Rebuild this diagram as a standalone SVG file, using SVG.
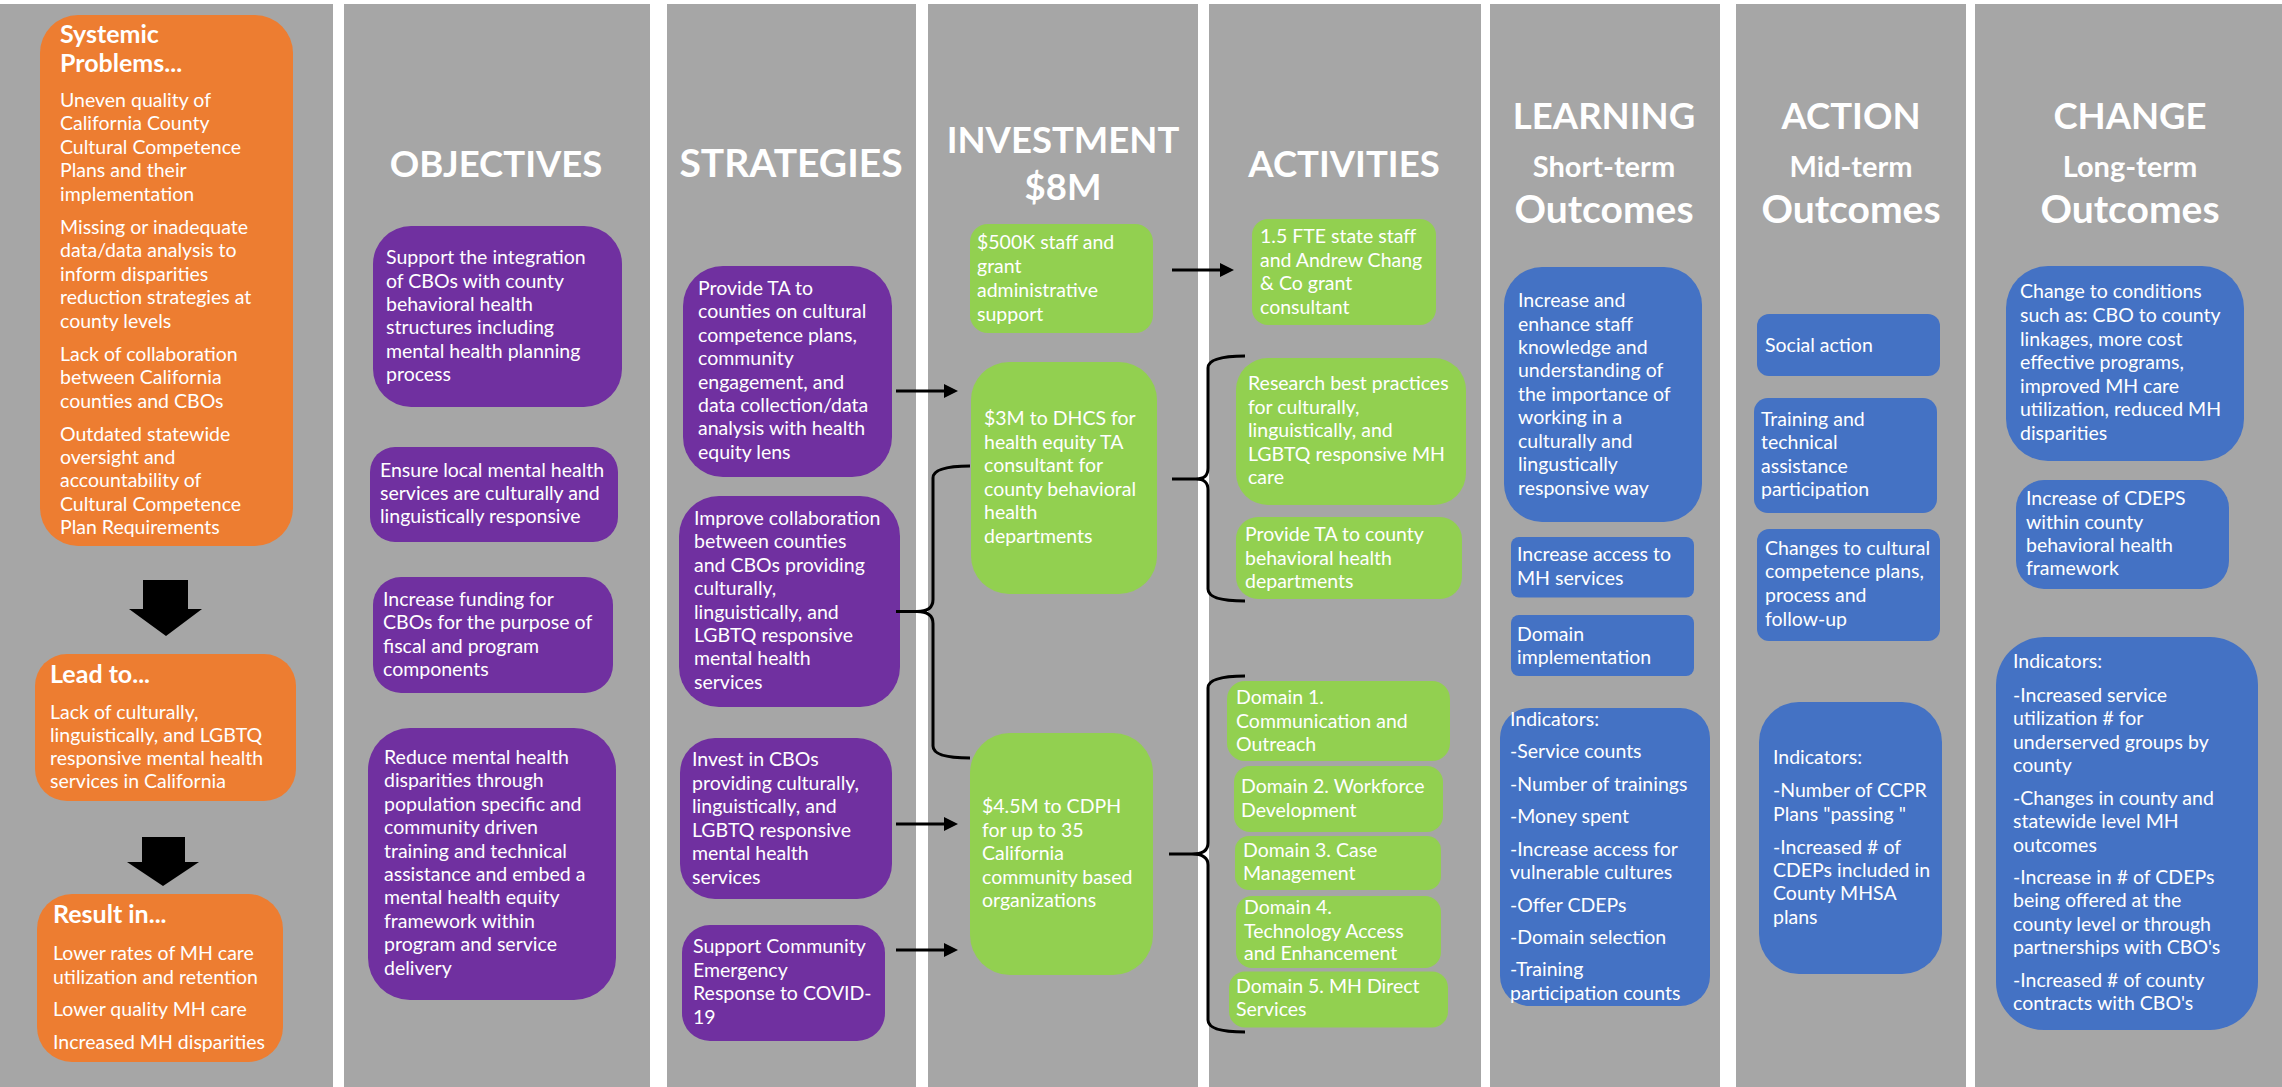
<svg xmlns="http://www.w3.org/2000/svg" width="2282" height="1087" viewBox="0 0 2282 1087">
<style>
.col{fill:#A6A6A6}
.org{fill:#ED7D31}
.pur{fill:#7030A0}
.grn{fill:#92D050}
.blu{fill:#4472C4}
text{font-family:Lato,'Open Sans',sans-serif;fill:#fff}
.t{font-size:19.5px}
.b{font-size:25px;font-weight:bold}
.h{font-size:36.5px;font-weight:bold;text-anchor:middle}
.hw{font-size:39px;font-weight:bold;text-anchor:middle}
.h2{font-size:29px;font-weight:bold;text-anchor:middle}
.ln{stroke:#000;stroke-width:3;fill:none}
</style>
<defs>
<marker id="ah" viewBox="0 0 10 10" refX="0" refY="5" markerWidth="17" markerHeight="14" markerUnits="userSpaceOnUse" orient="auto"><path d="M0 0L10 5L0 10z" fill="#000"/></marker>
</defs>
<rect width="2282" height="1087" fill="#fff"/>
<g id="columns">
<rect class="col" x="0" y="4" width="333" height="1083"/>
<rect class="col" x="344" y="4" width="306" height="1083"/>
<rect class="col" x="667" y="4" width="249" height="1083"/>
<rect class="col" x="928" y="4" width="270" height="1083"/>
<rect class="col" x="1209" y="4" width="272" height="1083"/>
<rect class="col" x="1490" y="4" width="230" height="1083"/>
<rect class="col" x="1736" y="4" width="230" height="1083"/>
<rect class="col" x="1975" y="4" width="307" height="1083"/>
</g>
<g id="headings">
<text class="h" x="496" y="177">OBJECTIVES</text>
<text class="hw" x="791" y="177">STRATEGIES</text>
<text class="h" x="1063" y="153">INVESTMENT</text>
<text class="h" x="1063" y="200">$8M</text>
<text class="h" x="1344" y="177">ACTIVITIES</text>
<text class="h" x="1604" y="129">LEARNING</text>
<text class="h2" x="1604" y="177">Short-term</text>
<text class="hw" x="1604" y="223">Outcomes</text>
<text class="h" x="1851" y="129">ACTION</text>
<text class="h2" x="1851" y="177">Mid-term</text>
<text class="hw" x="1851" y="223">Outcomes</text>
<text class="h" x="2130" y="129">CHANGE</text>
<text class="h2" x="2130" y="177">Long-term</text>
<text class="hw" x="2130" y="223">Outcomes</text>
</g>
<g id="problems">
<rect class="org" x="40" y="15" width="253" height="531" rx="38"/>
<text class="b" x="60" y="43">Systemic</text>
<text class="b" x="60" y="72">Problems...</text>
<text class="t" x="60" y="107">Uneven quality of</text>
<text class="t" x="60" y="130.4">California County</text>
<text class="t" x="60" y="153.8">Cultural Competence</text>
<text class="t" x="60" y="177.2">Plans and their</text>
<text class="t" x="60" y="200.6">implementation</text>
<text class="t" x="60" y="234">Missing or inadequate</text>
<text class="t" x="60" y="257.4">data/data analysis to</text>
<text class="t" x="60" y="280.8">inform disparities</text>
<text class="t" x="60" y="304.2">reduction strategies at</text>
<text class="t" x="60" y="327.6">county levels</text>
<text class="t" x="60" y="361">Lack of collaboration</text>
<text class="t" x="60" y="384.4">between California</text>
<text class="t" x="60" y="407.8">counties and CBOs</text>
<text class="t" x="60" y="440.5">Outdated statewide</text>
<text class="t" x="60" y="463.9">oversight and</text>
<text class="t" x="60" y="487.3">accountability of</text>
<text class="t" x="60" y="510.7">Cultural Competence</text>
<text class="t" x="60" y="534.1">Plan Requirements</text>
</g>
<g id="arrow-down-1"><polygon points="143,580 188,580 188,609 202,609 166,636 129,609 143,609" fill="#000"/></g>
<g id="lead-to">
<rect class="org" x="35" y="654" width="261" height="147" rx="32"/>
<text class="b" x="50" y="683">Lead to...</text>
<text class="t" x="50" y="719">Lack of culturally,</text>
<text class="t" x="50" y="742">linguistically, and LGBTQ</text>
<text class="t" x="50" y="765">responsive mental health</text>
<text class="t" x="50" y="788">services in California</text>
</g>
<g id="arrow-down-2"><polygon points="142,837 185,837 185,862 199,862 163,886 127,862 142,862" fill="#000"/></g>
<g id="result-in">
<rect class="org" x="37" y="894" width="246" height="168" rx="35"/>
<text class="b" x="53" y="923">Result in...</text>
<text class="t" x="53" y="960">Lower rates of MH care</text>
<text class="t" x="53" y="983.5">utilization and retention</text>
<text class="t" x="53" y="1016">Lower quality MH care</text>
<text class="t" x="53" y="1049">Increased MH disparities</text>
</g>
<g id="obj-1">
<rect class="pur" x="373" y="226" width="249" height="181" rx="38"/>
<text class="t" x="386" y="264">Support the integration</text>
<text class="t" x="386" y="287.5">of CBOs with county</text>
<text class="t" x="386" y="311">behavioral health</text>
<text class="t" x="386" y="334">structures including</text>
<text class="t" x="386" y="357.5">mental health planning</text>
<text class="t" x="386" y="381">process</text>
</g>
<g id="obj-2">
<rect class="pur" x="370" y="447" width="248" height="95" rx="25"/>
<text class="t" x="380" y="477">Ensure local mental health</text>
<text class="t" x="380" y="500">services are culturally and</text>
<text class="t" x="380" y="523">linguistically responsive</text>
</g>
<g id="obj-3">
<rect class="pur" x="373" y="577" width="240" height="116" rx="28"/>
<text class="t" x="383" y="606">Increase funding for</text>
<text class="t" x="383" y="629">CBOs for the purpose of</text>
<text class="t" x="383" y="652.5">fiscal and program</text>
<text class="t" x="383" y="676">components</text>
</g>
<g id="obj-4">
<rect class="pur" x="368" y="728" width="248" height="272" rx="42"/>
<text class="t" x="384" y="764">Reduce mental health</text>
<text class="t" x="384" y="787.4">disparities through</text>
<text class="t" x="384" y="810.8">population specific and</text>
<text class="t" x="384" y="834.2">community driven</text>
<text class="t" x="384" y="857.6">training and technical</text>
<text class="t" x="384" y="881">assistance and embed a</text>
<text class="t" x="384" y="904.4">mental health equity</text>
<text class="t" x="384" y="927.8">framework within</text>
<text class="t" x="384" y="951.2">program and service</text>
<text class="t" x="384" y="974.6">delivery</text>
</g>
<g id="str-1">
<rect class="pur" x="683" y="266" width="209" height="211" rx="40"/>
<text class="t" x="698" y="295">Provide TA to</text>
<text class="t" x="698" y="318.4">counties on cultural</text>
<text class="t" x="698" y="341.8">competence plans,</text>
<text class="t" x="698" y="365.2">community</text>
<text class="t" x="698" y="388.6">engagement, and</text>
<text class="t" x="698" y="412">data collection/data</text>
<text class="t" x="698" y="435.4">analysis with health</text>
<text class="t" x="698" y="458.8">equity lens</text>
</g>
<g id="str-2">
<rect class="pur" x="679" y="496" width="221" height="211" rx="40"/>
<text class="t" x="694" y="525">Improve collaboration</text>
<text class="t" x="694" y="548.4">between counties</text>
<text class="t" x="694" y="571.8">and CBOs providing</text>
<text class="t" x="694" y="595.2">culturally,</text>
<text class="t" x="694" y="618.6">linguistically, and</text>
<text class="t" x="694" y="642">LGBTQ responsive</text>
<text class="t" x="694" y="665.4">mental health</text>
<text class="t" x="694" y="688.8">services</text>
</g>
<g id="str-3">
<rect class="pur" x="680" y="738" width="212" height="161" rx="35"/>
<text class="t" x="692" y="766">Invest in CBOs</text>
<text class="t" x="692" y="789.5">providing culturally,</text>
<text class="t" x="692" y="813">linguistically, and</text>
<text class="t" x="692" y="836.5">LGBTQ responsive</text>
<text class="t" x="692" y="860">mental health</text>
<text class="t" x="692" y="883.5">services</text>
</g>
<g id="str-4">
<rect class="pur" x="682" y="925" width="203" height="116" rx="28"/>
<text class="t" x="693" y="953">Support Community</text>
<text class="t" x="693" y="976.5">Emergency</text>
<text class="t" x="693" y="1000">Response to COVID-</text>
<text class="t" x="693" y="1023.5">19</text>
</g>
<g id="inv-1">
<rect class="grn" x="970" y="224" width="183" height="109" rx="18"/>
<text class="t" x="977" y="249">$500K staff and</text>
<text class="t" x="977" y="273">grant</text>
<text class="t" x="977" y="297">administrative</text>
<text class="t" x="977" y="321">support</text>
</g>
<g id="inv-2">
<rect class="grn" x="971" y="362" width="186" height="232" rx="38"/>
<text class="t" x="984" y="425">$3M to DHCS for</text>
<text class="t" x="984" y="448.5">health equity TA</text>
<text class="t" x="984" y="472">consultant for</text>
<text class="t" x="984" y="495.5">county behavioral</text>
<text class="t" x="984" y="519">health</text>
<text class="t" x="984" y="542.5">departments</text>
</g>
<g id="inv-3">
<rect class="grn" x="970" y="733" width="183" height="242" rx="40"/>
<text class="t" x="982" y="813">$4.5M to CDPH</text>
<text class="t" x="982" y="836.5">for up to 35</text>
<text class="t" x="982" y="860">California</text>
<text class="t" x="982" y="883.5">community based</text>
<text class="t" x="982" y="907">organizations</text>
</g>
<g id="act-1">
<rect class="grn" x="1252" y="219" width="184" height="106" rx="16"/>
<text class="t" x="1260" y="243">1.5 FTE state staff</text>
<text class="t" x="1260" y="267">and Andrew Chang</text>
<text class="t" x="1260" y="290">&amp; Co grant</text>
<text class="t" x="1260" y="313.5">consultant</text>
</g>
<g id="act-2">
<rect class="grn" x="1236" y="358" width="230" height="147" rx="32"/>
<text class="t" x="1248" y="390">Research best practices</text>
<text class="t" x="1248" y="413.5">for culturally,</text>
<text class="t" x="1248" y="437">linguistically, and</text>
<text class="t" x="1248" y="460.5">LGBTQ responsive MH</text>
<text class="t" x="1248" y="484">care</text>
</g>
<g id="act-3">
<rect class="grn" x="1236" y="517" width="226" height="82" rx="22"/>
<text class="t" x="1245" y="541">Provide TA to county</text>
<text class="t" x="1245" y="564.5">behavioral health</text>
<text class="t" x="1245" y="588">departments</text>
</g>
<g id="domain-1">
<rect class="grn" x="1227" y="681" width="223" height="80" rx="18"/>
<text class="t" x="1236" y="704">Domain 1.</text>
<text class="t" x="1236" y="727.5">Communication and</text>
<text class="t" x="1236" y="751">Outreach</text>
</g>
<g id="domain-2">
<rect class="grn" x="1234" y="766" width="209" height="66" rx="16"/>
<text class="t" x="1241" y="793">Domain 2. Workforce</text>
<text class="t" x="1241" y="816.5">Development</text>
</g>
<g id="domain-3">
<rect class="grn" x="1235" y="836" width="206" height="54" rx="14"/>
<text class="t" x="1243" y="856.5">Domain 3. Case</text>
<text class="t" x="1243" y="880">Management</text>
</g>
<g id="domain-4">
<rect class="grn" x="1236" y="896" width="205" height="72" rx="16"/>
<text class="t" x="1244" y="914">Domain 4.</text>
<text class="t" x="1244" y="937.5">Technology Access</text>
<text class="t" x="1244" y="960">and Enhancement</text>
</g>
<g id="domain-5">
<rect class="grn" x="1229" y="971.5" width="219" height="56" rx="16"/>
<text class="t" x="1236" y="993">Domain 5. MH Direct</text>
<text class="t" x="1236" y="1016">Services</text>
</g>
<g id="learn-1">
<rect class="blu" x="1504" y="267" width="198" height="255" rx="38"/>
<text class="t" x="1518" y="307">Increase and</text>
<text class="t" x="1518" y="330.5">enhance staff</text>
<text class="t" x="1518" y="354">knowledge and</text>
<text class="t" x="1518" y="377">understanding of</text>
<text class="t" x="1518" y="400.5">the importance of</text>
<text class="t" x="1518" y="424">working in a</text>
<text class="t" x="1518" y="447.5">culturally and</text>
<text class="t" x="1518" y="471">lingustically</text>
<text class="t" x="1518" y="494.5">responsive way</text>
</g>
<g id="learn-2">
<rect class="blu" x="1511" y="537" width="183" height="60.5" rx="8"/>
<text class="t" x="1517" y="561">Increase access to</text>
<text class="t" x="1517" y="584.5">MH services</text>
</g>
<g id="learn-3">
<rect class="blu" x="1511" y="615" width="183" height="61" rx="8"/>
<text class="t" x="1517" y="640.5">Domain</text>
<text class="t" x="1517" y="664">implementation</text>
</g>
<g id="learn-indicators">
<rect class="blu" x="1500" y="708" width="210" height="298" rx="30"/>
<text class="t" x="1510" y="726">Indicators:</text>
<text class="t" x="1510" y="758">-Service counts</text>
<text class="t" x="1510" y="790.5">-Number of trainings</text>
<text class="t" x="1510" y="822.5">-Money spent</text>
<text class="t" x="1510" y="855.5">-Increase access for</text>
<text class="t" x="1510" y="878.5">vulnerable cultures</text>
<text class="t" x="1510" y="911.5">-Offer CDEPs</text>
<text class="t" x="1510" y="943.5">-Domain selection</text>
<text class="t" x="1510" y="976">-Training</text>
<text class="t" x="1510" y="999.5">participation counts</text>
</g>
<g id="action-1">
<rect class="blu" x="1757" y="314" width="183" height="62" rx="12"/>
<text class="t" x="1765" y="352">Social action</text>
</g>
<g id="action-2">
<rect class="blu" x="1754" y="398" width="183" height="115" rx="14"/>
<text class="t" x="1761" y="426">Training and</text>
<text class="t" x="1761" y="449">technical</text>
<text class="t" x="1761" y="472.5">assistance</text>
<text class="t" x="1761" y="496">participation</text>
</g>
<g id="action-3">
<rect class="blu" x="1757" y="529" width="183" height="112" rx="12"/>
<text class="t" x="1765" y="555">Changes to cultural</text>
<text class="t" x="1765" y="578">competence plans,</text>
<text class="t" x="1765" y="602">process and</text>
<text class="t" x="1765" y="625.5">follow-up</text>
</g>
<g id="action-indicators">
<rect class="blu" x="1759" y="702" width="183" height="272" rx="40"/>
<text class="t" x="1773" y="764">Indicators:</text>
<text class="t" x="1773" y="797">-Number of CCPR</text>
<text class="t" x="1773" y="821">Plans "passing "</text>
<text class="t" x="1773" y="854">-Increased # of</text>
<text class="t" x="1773" y="877">CDEPs included in</text>
<text class="t" x="1773" y="900">County MHSA</text>
<text class="t" x="1773" y="924">plans</text>
</g>
<g id="change-1">
<rect class="blu" x="2006" y="266" width="238" height="195" rx="42"/>
<text class="t" x="2020" y="298">Change to conditions</text>
<text class="t" x="2020" y="322">such as: CBO to county</text>
<text class="t" x="2020" y="345.5">linkages, more cost</text>
<text class="t" x="2020" y="369">effective programs,</text>
<text class="t" x="2020" y="392.5">improved MH care</text>
<text class="t" x="2020" y="416">utilization, reduced MH</text>
<text class="t" x="2020" y="439.5">disparities</text>
</g>
<g id="change-2">
<rect class="blu" x="2016" y="480" width="213" height="109" rx="28"/>
<text class="t" x="2026" y="505">Increase of CDEPS</text>
<text class="t" x="2026" y="528.5">within county</text>
<text class="t" x="2026" y="552">behavioral health</text>
<text class="t" x="2026" y="575">framework</text>
</g>
<g id="change-indicators">
<rect class="blu" x="1996" y="637" width="262" height="393" rx="48"/>
<text class="t" x="2013" y="668">Indicators:</text>
<text class="t" x="2013" y="701.5">-Increased service</text>
<text class="t" x="2013" y="725">utilization # for</text>
<text class="t" x="2013" y="748.5">underserved groups by</text>
<text class="t" x="2013" y="771.5">county</text>
<text class="t" x="2013" y="805">-Changes in county and</text>
<text class="t" x="2013" y="828">statewide level MH</text>
<text class="t" x="2013" y="851.5">outcomes</text>
<text class="t" x="2013" y="884">-Increase in # of CDEPs</text>
<text class="t" x="2013" y="907">being offered at the</text>
<text class="t" x="2013" y="930.5">county level or through</text>
<text class="t" x="2013" y="954">partnerships with CBO's</text>
<text class="t" x="2013" y="986.5">-Increased # of county</text>
<text class="t" x="2013" y="1010">contracts with CBO's</text>
</g>
<g id="connectors">
<path class="ln" d="M896 391H944" marker-end="url(#ah)"/>
<path class="ln" d="M1172 270H1220" marker-end="url(#ah)"/>
<path class="ln" d="M896 824H944" marker-end="url(#ah)"/>
<path class="ln" d="M896 950H944" marker-end="url(#ah)"/>
<path class="ln" d="M896 611.5H917C926 611.5 933 608.5 933 599.5V478C933 470 945 466 970 466M917 611.5C926 611.5 933 614.5 933 623.5V746C933 754 945 758 970 758"/>
<path class="ln" d="M1172 479H1196C1204 479 1208 476 1208 468V368C1208 360 1220 356 1245 356M1196 479C1204 479 1208 482 1208 490V589C1208 597 1220 601 1245 601"/>
<path class="ln" d="M1169 854H1192C1201 854 1208 851 1208 843V688C1208 680 1220 676 1245 676M1192 854C1201 854 1208 857 1208 865V1020C1208 1028 1220 1032 1245 1032"/>
</g>
</svg>
